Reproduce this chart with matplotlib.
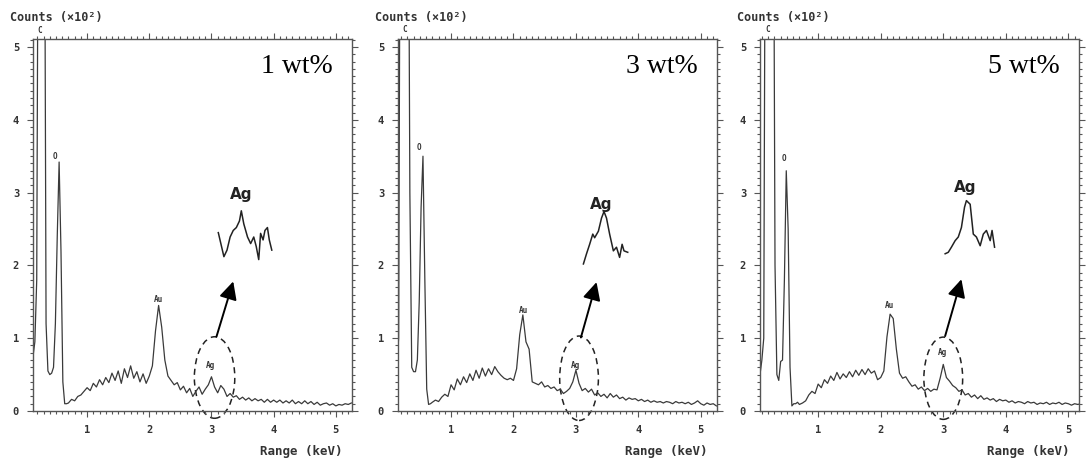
import numpy as np
import matplotlib
matplotlib.use("Agg")
import matplotlib.pyplot as plt
from matplotlib.patches import Ellipse
from matplotlib.ticker import MultipleLocator

# ---------------- data ----------------
energy_low = [0.07, 0.10, 0.13, 0.16, 0.19, 0.22, 0.25, 0.28, 0.31, 0.34, 0.37,
              0.40, 0.43, 0.46, 0.49, 0.52, 0.55, 0.58, 0.61, 0.64, 0.67]
energy_high = np.round(np.arange(0.70, 5.2501, 0.05), 2)
energy = np.concatenate([energy_low, energy_high])

low_1wt = [0.70, 0.72, 0.75, 0.95, 1.8, 9.0, 9.0, 9.0, 9.0, 1.2, 0.55,
           0.50, 0.52, 0.60, 1.2, 2.4, 3.42, 2.2, 0.40, 0.10, 0.10]
high_1wt = [0.11, 0.16, 0.14, 0.20, 0.22, 0.27, 0.32, 0.28, 0.38, 0.33,
            0.43, 0.36, 0.46, 0.39, 0.52, 0.42, 0.55, 0.38, 0.58, 0.46,
            0.62, 0.45, 0.54, 0.40, 0.51, 0.38, 0.48, 0.62, 1.10, 1.45,
            1.15, 0.70, 0.48, 0.42, 0.36, 0.39, 0.29, 0.34, 0.25, 0.31,
            0.20, 0.27, 0.33, 0.23, 0.30, 0.36, 0.47, 0.33, 0.25, 0.35,
            0.30, 0.20, 0.24, 0.19, 0.21, 0.16, 0.19, 0.15, 0.18, 0.14,
            0.17, 0.14, 0.16, 0.12, 0.16, 0.12, 0.15, 0.12, 0.15, 0.11,
            0.14, 0.11, 0.15, 0.10, 0.13, 0.10, 0.14, 0.10, 0.13, 0.09,
            0.12, 0.08, 0.10, 0.11, 0.08, 0.10, 0.07, 0.09, 0.08, 0.10,
            0.09, 0.11]

low_3wt = [0.50, 0.55, 0.60, 1.0, 9.0, 9.0, 9.0, 9.0, 9.0, 3.0, 0.6,
           0.54, 0.54, 0.70, 1.5, 2.8, 3.5, 1.8, 0.30, 0.09, 0.10]
high_3wt = [0.12, 0.15, 0.13, 0.19, 0.23, 0.20, 0.36, 0.29, 0.44, 0.36,
            0.47, 0.39, 0.51, 0.42, 0.56, 0.45, 0.59, 0.48, 0.58, 0.50,
            0.61, 0.54, 0.49, 0.45, 0.43, 0.45, 0.42, 0.58, 1.05, 1.32,
            0.95, 0.85, 0.40, 0.38, 0.36, 0.40, 0.33, 0.35, 0.31, 0.33,
            0.28, 0.30, 0.24, 0.27, 0.31, 0.40, 0.56, 0.38, 0.28, 0.31,
            0.26, 0.30, 0.22, 0.25, 0.20, 0.23, 0.18, 0.24, 0.19, 0.22,
            0.17, 0.19, 0.15, 0.18, 0.16, 0.17, 0.14, 0.16, 0.13, 0.15,
            0.12, 0.14, 0.12, 0.13, 0.11, 0.13, 0.12, 0.10, 0.13, 0.11,
            0.12, 0.10, 0.12, 0.09, 0.11, 0.14, 0.10, 0.08, 0.11, 0.09,
            0.10, 0.07]

low_5wt = [0.50, 0.70, 1.0, 9.0, 9.0, 9.0, 9.0, 9.0, 2.0, 0.50, 0.42,
           0.68, 0.70, 1.8, 3.3, 2.5, 0.6, 0.07, 0.10, 0.10, 0.12]
high_5wt = [0.09, 0.11, 0.14, 0.22, 0.27, 0.24, 0.37, 0.32, 0.43, 0.38,
            0.48, 0.42, 0.53, 0.44, 0.51, 0.46, 0.54, 0.47, 0.56, 0.49,
            0.57, 0.50, 0.58, 0.52, 0.55, 0.43, 0.46, 0.55, 1.02, 1.33,
            1.27, 0.85, 0.52, 0.45, 0.47, 0.40, 0.34, 0.36, 0.30, 0.33,
            0.28, 0.31, 0.27, 0.30, 0.29, 0.45, 0.64, 0.46, 0.41, 0.35,
            0.32, 0.27, 0.29, 0.22, 0.24, 0.19, 0.22, 0.17, 0.21, 0.16,
            0.18, 0.15, 0.17, 0.13, 0.16, 0.14, 0.15, 0.12, 0.14, 0.11,
            0.13, 0.12, 0.10, 0.13, 0.11, 0.12, 0.09, 0.11, 0.10, 0.12,
            0.09, 0.11, 0.10, 0.12, 0.09, 0.11, 0.10, 0.08, 0.10, 0.09,
            0.10, 0.09]

# zoomed Ag insets (drawn in the data frame, as in the figure)
inset_x_1wt = [3.11, 3.20, 3.25, 3.30, 3.35, 3.40, 3.45, 3.48, 3.52, 3.58,
               3.63, 3.68, 3.72, 3.76, 3.79, 3.83, 3.86, 3.90, 3.93, 3.97]
inset_y_1wt = [2.45, 2.12, 2.21, 2.39, 2.48, 2.52, 2.61, 2.75, 2.57, 2.39,
               2.30, 2.39, 2.26, 2.08, 2.44, 2.35, 2.48, 2.52, 2.35, 2.21]
inset_x_3wt = [3.12, 3.17, 3.22, 3.27, 3.30, 3.36, 3.41, 3.45, 3.49, 3.54,
               3.60, 3.65, 3.70, 3.74, 3.77, 3.83]
inset_y_3wt = [2.02, 2.16, 2.29, 2.43, 2.38, 2.47, 2.65, 2.74, 2.65, 2.43,
               2.20, 2.25, 2.11, 2.29, 2.20, 2.18]
inset_x_5wt = [3.03, 3.08, 3.13, 3.19, 3.24, 3.29, 3.34, 3.37, 3.43, 3.48,
               3.53, 3.59, 3.64, 3.69, 3.75, 3.78, 3.82]
inset_y_5wt = [2.16, 2.18, 2.25, 2.34, 2.39, 2.52, 2.80, 2.89, 2.84, 2.43,
               2.39, 2.27, 2.43, 2.48, 2.34, 2.48, 2.25]

panel_labels = ["1 wt%", "3 wt%", "5 wt%"]
x_ticks = [1, 2, 3, 4, 5]
y_ticks = [0, 1, 2, 3, 4, 5]

# ---------------- layout / style ----------------
panels = [
    dict(low=low_1wt, high=high_1wt, ix=inset_x_1wt, iy=inset_y_1wt,
         left=33, xlim=(0.13, 5.26), C=(0.245, 5.22), O=(0.49, 3.50),
         Au=(2.15, 1.53), ag_small=(2.98, 0.62), ag_big=(3.48, 2.97),
         arrow=((3.08, 1.02), (3.35, 1.78)), ell=(3.05, 0.46, 0.65, 1.12)),
    dict(low=low_3wt, high=high_3wt, ix=inset_x_3wt, iy=inset_y_3wt,
         left=398, xlim=(0.15, 5.26), C=(0.25, 5.24), O=(0.49, 3.62),
         Au=(2.16, 1.38), ag_small=(2.99, 0.63), ag_big=(3.41, 2.83),
         arrow=((3.08, 1.01), (3.33, 1.77)), ell=(3.05, 0.45, 0.62, 1.16)),
    dict(low=low_5wt, high=high_5wt, ix=inset_x_5wt, iy=inset_y_5wt,
         left=760, xlim=(0.07, 5.17), C=(0.20, 5.24), O=(0.46, 3.47),
         Au=(2.14, 1.45), ag_small=(2.98, 0.80), ag_big=(3.35, 3.07),
         arrow=((3.03, 1.03), (3.29, 1.81)), ell=(3.00, 0.45, 0.62, 1.13)),
]

W, H = 1086, 459
fig = plt.figure(figsize=(W / 100, H / 100), dpi=100)
fig.patch.set_facecolor("white")

mono = "DejaVu Sans Mono"
line_col = "#3a3a3a"
frame_col = "#555555"

for p, lab in zip(panels, panel_labels):
    ax = fig.add_axes([p["left"] / W, (H - 411) / H, 319 / W, 372 / H])
    y = np.concatenate([p["low"], p["high"]])
    ax.plot(energy, y, color=line_col, lw=0.9)
    ax.set_xlim(*p["xlim"])
    ax.set_ylim(0, 5.11)

    for s in ax.spines.values():
        s.set_color(frame_col)
        s.set_linewidth(1.0)
    ax.set_xticks(x_ticks)
    ax.set_yticks(y_ticks)
    ax.xaxis.set_minor_locator(MultipleLocator(0.1))
    ax.yaxis.set_minor_locator(MultipleLocator(0.1))
    ax.tick_params(which="both", direction="out", top=True, right=True,
                   color=frame_col, width=0.8)
    ax.tick_params(which="major", length=4, labelsize=7.5, pad=6)
    ax.tick_params(which="minor", length=2)
    for t in ax.get_xticklabels() + ax.get_yticklabels():
        t.set_fontfamily(mono)
        t.set_fontweight("bold")
        t.set_color("#333333")

    ax.text(-0.072, 1.058, "Counts (×10²)", transform=ax.transAxes,
            family=mono, fontsize=8.5, fontweight="bold", color="#333333",
            ha="left", va="center")
    ax.text(0.97, -0.11, "Range (keV)", transform=ax.transAxes,
            family=mono, fontsize=9, fontweight="bold", color="#333333",
            ha="right", va="center")

    small = dict(family=mono, fontsize=5.5, fontweight="bold",
                 color="#333333", ha="center", va="center", clip_on=False)
    ax.text(*p["C"], "C", **small)
    ax.text(*p["O"], "O", **small)
    ax.text(*p["Au"], "Au", **small)
    ax.text(*p["ag_small"], "Ag", **small)

    ax.plot(p["ix"], p["iy"], color="#222222", lw=1.1)
    ax.text(*p["ag_big"], "Ag", family="DejaVu Sans", fontsize=11,
            fontweight="bold", color="#222222", ha="center", va="center")

    (x0, y0), (x1, y1) = p["arrow"]
    ax.annotate("", xy=(x1, y1), xytext=(x0, y0),
                arrowprops=dict(arrowstyle="-|>,head_length=0.6,head_width=0.3",
                                mutation_scale=18, lw=1.4, color="black",
                                shrinkA=0, shrinkB=0))
    cx, cy, ew, eh = p["ell"]
    ax.add_patch(Ellipse((cx, cy), ew, eh, fill=False, ls=(0, (4, 3)),
                         lw=1.1, color="#222222", clip_on=False))

    ax.text(0.94, 0.925, lab, transform=ax.transAxes,
            family="Liberation Serif", fontsize=20, color="black",
            ha="right", va="center")

fig.savefig("out.png", dpi=100, facecolor="white")
